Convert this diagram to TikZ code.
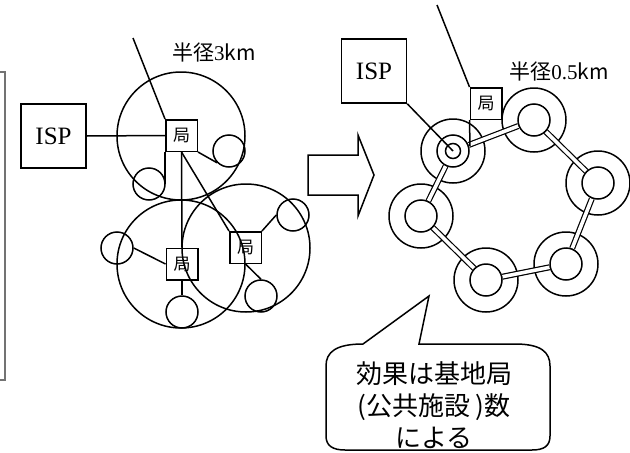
\documentclass[tikz,border=0pt]{standalone}
\usepackage{fontspec}
\setmainfont{Liberation Serif}
\newfontfamily\jp{Noto Sans CJK JP}
\begin{document}
\begin{tikzpicture}[x=1pt,y=-1pt,line width=1.5pt,
  ispbox/.style={draw,rectangle,inner sep=0pt,minimum width=65pt,minimum height=64pt,font=\fontsize{25}{25}\selectfont},
  kbox/.style={draw,rectangle,inner sep=0pt,minimum size=31.5pt,font=\jp\fontsize{17}{17}\selectfont},
  bigc/.style={draw,circle,inner sep=0pt,minimum size=128pt},
  smallc/.style={draw,circle,inner sep=0pt,minimum size=32pt},
  hub/.style={circle,inner sep=0pt,minimum size=32pt},
  ringc/.style={draw,circle,inner sep=0pt,minimum size=64pt},
  pipe/.style={double,double distance=3.6pt,line width=1.2pt},
  lbl/.style={font=\fontsize{21}{21}\selectfont,inner sep=0pt},
  note/.style={font=\jp\fontsize{26}{32}\selectfont,align=center,inner sep=0pt}]
\useasboundingbox (0,0) rectangle (630,453);

% left grey frame
\draw[black!55,line width=2pt] (-10,72) rectangle (5,380);

% ---- left network ----
\node[ispbox] (ispA) at (53.5,136) {ISP};
\node[kbox] (kA) at (181.5,135.5) {局};
\node[kbox] (kB) at (182,264) {局};
\node[kbox] (kC) at (245.5,247.5) {局};
\node[bigc] (cA) at (181,136) {};
\node[bigc] (cB) at (181,264) {};
\node[bigc] (cC) at (246,248) {};
\node[smallc] (s1) at (229,151) {};
\node[smallc] (s2) at (149,184) {};
\node[smallc] (s3) at (117,248) {};
\node[smallc] (s4) at (182,312) {};
\node[smallc] (s5) at (261,296) {};
\node[smallc] (s6) at (293,215) {};
\coordinate (topA) at (133,38);
\node[lbl] (radA) at (214,52) {{\jp 半径}3{\jp km}};

\draw (ispA.east) -- (kA.west);
\draw (topA) -- (kA.north west);
\draw (kA.south east) -- (s1.south west);
\draw (kA.south west) -- (kA.south west |- s2.east);
\draw (kA.south) -- (kB.north);
\draw (kA.south) -- (kC.north west);
\draw (kC.south) -- (s5.north);
\draw (kC.north east) -- (s6.west);
\draw (s3.east) -- (kB.west);
\draw (kB.south) -- (s4.north);

% ---- block arrow ----
\draw[line join=miter] (308,155) -- (358,155) -- (358,135) -- (374,175) -- (358,216) -- (358,195) -- (308,195) -- cycle;

% ---- right network ----
\node[ispbox] (ispB) at (374,71) {ISP};
\node[kbox] (kD) at (486,103.5) {局};
\coordinate (topB) at (437,5);
\coordinate (jn) at (470,146);
\node[lbl] (radB) at (559,71) {{\jp 半径}0.5{\jp km}};

\node[ringc] (o1) at (453,151) {};
\node[ringc] (o2) at (534,120) {};
\node[ringc] (o3) at (598,183) {};
\node[ringc] (o6) at (566,264) {};
\node[ringc] (o5) at (486,280) {};
\node[ringc] (o4) at (421,216) {};

\node[hub] (r1) at (o1.center) {};
\node[hub] (r2) at (o2.center) {};
\node[hub] (r3) at (o3.center) {};
\node[hub] (r6) at (o6.center) {};
\node[hub] (r5) at (o5.center) {};
\node[hub] (r4) at (o4.center) {};

\draw[pipe] (r1) -- (r2);
\draw[pipe] (r2) -- (r3);
\draw[pipe] (r3) -- (r6);
\draw[pipe] (r6) -- (r5);
\draw[pipe] (r5) -- (r4);
\draw[pipe] (r4) -- (r1);

\foreach \n in {r1,r2,r3,r4,r5,r6}
  \draw[line width=1.5pt] (\n.center) circle[radius=16pt];
\draw[line width=1.5pt] (r1.center) circle[radius=7.5pt];

\draw (ispB.south east) -- (r1.center);
\draw (topB) -- (kD.north west);
\draw (kD.south west) -- (jn);

% ---- callout ----
\node[note] (txt) at (434,405) {効果は基地局\\(公共施設 )数\\による};
\coordinate (tip) at (429,296);
\draw (363,344) .. controls (336,344) and (326,352) .. (326,366)
  -- (326,436) .. controls (326,446) and (333,450) .. (345,450)
  -- (532,450) .. controls (544,450) and (550,446) .. (550,436)
  -- (550,366) .. controls (550,352) and (541,344) .. (515,344)
  -- (419,344) -- (tip) -- cycle;
\end{tikzpicture}
\end{document}
